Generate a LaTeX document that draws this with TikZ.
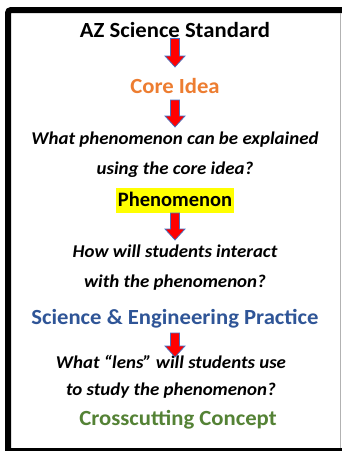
\documentclass[tikz,border=0pt]{standalone}
\usepackage{fontspec}
\setmainfont{Carlito}
\newfontfamily\widefont{Carlito}[FakeStretch=1.05]
\definecolor{corange}{HTML}{ED7D31}
\definecolor{cblue}{HTML}{2F5597}
\definecolor{cgreen}{HTML}{548235}
\definecolor{aline}{HTML}{4472C4}
\definecolor{hl}{HTML}{FFFF00}
\begin{document}
\begin{tikzpicture}[x=1pt,y=-1pt,
  heading/.style={font=\widefont\fontsize{21.6}{24}\selectfont\bfseries, anchor=base, inner sep=0pt},
  question/.style={font=\widefont\fontsize{18}{20}\selectfont\bfseries\itshape, anchor=base, inner sep=0pt},
  highlight/.style={font=\fontsize{20.5}{24}\selectfont\bfseries, fill=hl, inner sep=0pt, inner xsep=2pt,
    text height=18pt, text depth=7pt, anchor=base},
  blockarr/.style={fill=red, draw=aline, line width=0.7pt, line join=miter}]
\useasboundingbox (0,0) rectangle (342,451);
\fill[white] (0,0) rectangle (342,451);
% frame
\draw[line width=6pt, rounded corners=3pt] (8,451) -- (8,10) -- (342,10);
\draw[line width=3pt] (5,449.5) -- (342,449.5);
\draw[line width=1pt, gray!60] (340.5,13) -- (340.5,448);
% texts
\node[heading] (az) at (175,37) {AZ Science Standard};
\node[heading, text=corange] (core) at (175,93) {Core Idea};
\node[question] (q1a) at (175,144) {What phenomenon can be explained};
\node[question] (q1b) at (175,174) {using the core idea?};
\node[highlight] (phen) at (175,206) {Phenomenon};
\node[question] (q2a) at (175,257) {How will students interact};
\node[question] (q2b) at (175,287) {with the phenomenon?};
\node[heading, text=cblue] (sep) at (175,324) {Science \& Engineering Practice};
\node[question] (q3a) at (171,368) {What “lens” will students use};
\node[question] (q3b) at (171,395) {to study the phenomenon?};
\node[heading, text=cgreen] (ccc) at (178,425) {Crosscutting Concept};
% block arrows
\newcommand{\blockarrow}[3]{% x, top, bottom
  \draw[blockarr] (#1-4.5,#2) -- (#1+4.5,#2) -- (#1+4.5,#3-11) -- (#1+10,#3-11)
     -- (#1,#3) -- (#1-10,#3-11) -- (#1-4.5,#3-11) -- cycle;}
\blockarrow{175}{38.5}{67}
\blockarrow{175}{100}{127}
\blockarrow{175}{213}{240}
\blockarrow{175}{333}{357}
\end{tikzpicture}
\end{document}
